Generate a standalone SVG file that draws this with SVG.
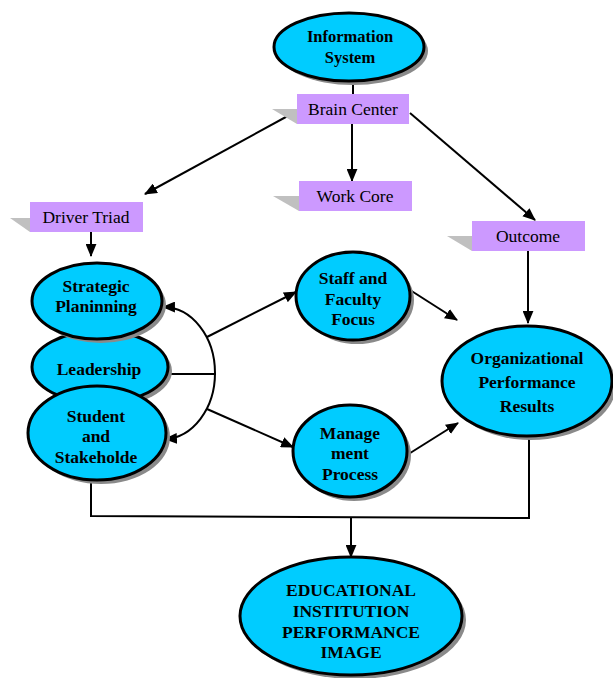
<svg xmlns="http://www.w3.org/2000/svg" width="613" height="678" viewBox="0 0 613 678">
<style>
.node ellipse.sh{fill:#8a8a8a;stroke:none}
.node ellipse.bd{fill:#00ccff;stroke:#000;stroke-width:3}
.lbl{font-family:"Liberation Serif","Times New Roman",serif;font-weight:bold;font-size:17.5px;text-anchor:middle;fill:#000}
.box rect{fill:#cc99ff;stroke:none}
.box polygon{fill:#c0c0c0;stroke:none}
.btxt{font-family:"Liberation Serif","Times New Roman",serif;font-size:17.5px;text-anchor:middle;fill:#000}
.con path,.con line,.con polyline{fill:none;stroke:#000;stroke-width:2}
.arr{marker-end:url(#ah)}
</style>
<defs>
<marker id="ah" viewBox="0 0 12 10" refX="11" refY="5" markerWidth="13" markerHeight="11" markerUnits="userSpaceOnUse" orient="auto">
<path d="M0,0 L12,5 L0,10 z" fill="#000"/>
</marker>
</defs>
<rect width="613" height="678" fill="#fff"/>

<g class="con">
<line x1="353" y1="82" x2="353" y2="94"/>
<line class="arr" x1="352" y1="124" x2="352" y2="181"/>
<line class="arr" x1="295" y1="112" x2="145" y2="194"/>
<line class="arr" x1="410" y1="113" x2="535" y2="220"/>
<line class="arr" x1="91" y1="232" x2="91" y2="256"/>
<line class="arr" x1="528" y1="251" x2="528" y2="323"/>
<line x1="170" y1="374" x2="216" y2="374"/>
<path class="arr" d="M215,373 A52 66 0 0 0 163 307"/>
<path class="arr" d="M215,373 A52 66 0 0 1 165 439"/>
<line class="arr" x1="207" y1="337" x2="296" y2="292"/>
<line class="arr" x1="207" y1="409" x2="293" y2="447"/>
<line class="arr" x1="410" y1="290" x2="457" y2="320"/>
<line class="arr" x1="407" y1="455" x2="458" y2="423"/>
<polyline points="91,482 91,516 529,518 529,437"/>
<line class="arr" x1="351" y1="517" x2="351" y2="557"/>
</g>

<g id="brain-center" class="box">
<polygon points="272,109 297,109 297,124"/>
<rect x="297" y="94" width="112" height="30"/>
<text class="btxt" x="353" y="115">Brain Center</text>
</g>
<g id="driver-triad" class="box">
<polygon points="10,218 30,218 30,232"/>
<rect x="30" y="202" width="113" height="30"/>
<text class="btxt" x="86" y="223">Driver Triad</text>
</g>
<g id="work-core" class="box">
<polygon points="273,196 299,196 299,211"/>
<rect x="299" y="181" width="113" height="30"/>
<text class="btxt" x="355" y="202">Work Core</text>
</g>
<g id="outcome" class="box">
<polygon points="447,236 472,236 472,251"/>
<rect x="472" y="221" width="113" height="30"/>
<text class="btxt" x="528" y="242">Outcome</text>
</g>

<g id="information-system" class="node">
<ellipse class="sh" cx="353" cy="51" rx="75" ry="34"/>
<ellipse class="bd" cx="349" cy="47" rx="75" ry="34"/>
<text class="lbl" style="font-size:16.5px" x="350" y="42">Information</text>
<text class="lbl" style="font-size:16.5px" x="350" y="63">System</text>
</g>

<g id="leadership" class="node">
<ellipse class="sh" cx="104" cy="371" rx="68" ry="36"/>
<ellipse class="bd" cx="100" cy="367" rx="68" ry="36"/>
<text class="lbl" x="99" y="375">Leadership</text>
</g>
<g id="strategic-planinning" class="node">
<ellipse class="sh" cx="101" cy="305" rx="65" ry="38"/>
<ellipse class="bd" cx="97" cy="301" rx="65" ry="38"/>
<text class="lbl" x="96" y="292">Strategic</text>
<text class="lbl" x="96" y="312">Planinning</text>
</g>
<g id="student-stakeholde" class="node">
<ellipse class="sh" cx="101" cy="437" rx="69" ry="47"/>
<ellipse class="bd" cx="97" cy="433" rx="69" ry="47"/>
<text class="lbl" x="96" y="422">Student</text>
<text class="lbl" x="96" y="442">and</text>
<text class="lbl" x="96" y="463">Stakeholde</text>
</g>

<g id="staff-faculty-focus" class="node">
<ellipse class="sh" cx="357" cy="300" rx="57" ry="44"/>
<ellipse class="bd" cx="353" cy="296" rx="57" ry="44"/>
<text class="lbl" x="353" y="284">Staff and</text>
<text class="lbl" x="353" y="305">Faculty</text>
<text class="lbl" x="353" y="325">Focus</text>
</g>
<g id="management-process" class="node">
<ellipse class="sh" cx="354" cy="455" rx="57" ry="46"/>
<ellipse class="bd" cx="350" cy="451" rx="57" ry="46"/>
<text class="lbl" x="350" y="439">Manage</text>
<text class="lbl" x="350" y="459">ment</text>
<text class="lbl" x="350" y="480">Process</text>
</g>
<g id="organizational-performance-results" class="node">
<ellipse class="sh" cx="531" cy="385" rx="85" ry="55"/>
<ellipse class="bd" cx="527" cy="381" rx="85" ry="55"/>
<text class="lbl" x="527" y="364">Organizational</text>
<text class="lbl" x="527" y="388">Performance</text>
<text class="lbl" x="527" y="412">Results</text>
</g>
<g id="educational-institution-performance-image" class="node">
<ellipse class="sh" cx="355" cy="620" rx="111" ry="59"/>
<ellipse class="bd" cx="351" cy="616" rx="111" ry="59"/>
<text class="lbl" x="351" y="596">EDUCATIONAL</text>
<text class="lbl" x="351" y="617">INSTITUTION</text>
<text class="lbl" x="351" y="638">PERFORMANCE</text>
<text class="lbl" x="351" y="658">IMAGE</text>
</g>
</svg>
